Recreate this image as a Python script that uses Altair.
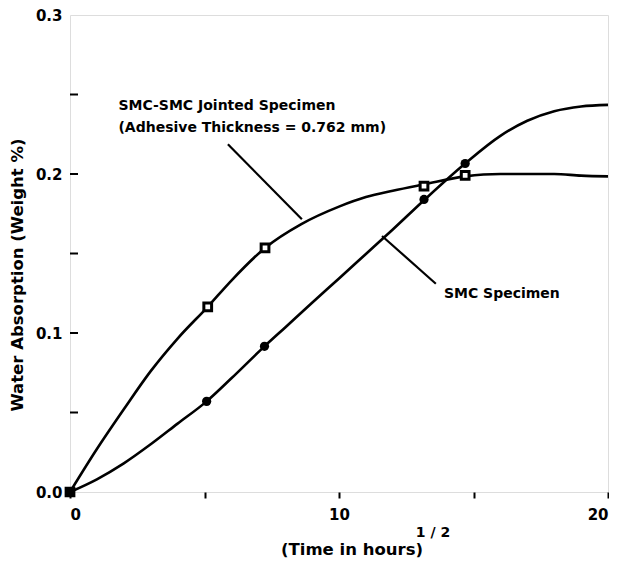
import altair as alt
import pandas as pd

# Curve points
joint_x = [0, 1, 2, 3, 4, 5.12, 6, 7.25, 8.6, 10, 11, 12, 13.16, 14.69, 16, 17, 18, 19, 20]
joint_y = [0, 0.027, 0.052, 0.076, 0.0965, 0.1165, 0.133, 0.1535, 0.1685, 0.1795, 0.1855, 0.1895, 0.1935, 0.1985, 0.2, 0.2, 0.2, 0.199, 0.1985]
smc_x = [0, 1, 2, 3, 4, 5.08, 6, 7.23, 8, 9, 10, 11, 12, 13.16, 14.69, 16, 17, 18, 19, 20]
smc_y = [0, 0.008, 0.018, 0.03, 0.043, 0.057, 0.0715, 0.0916, 0.1035, 0.119, 0.1343, 0.1497, 0.1651, 0.1835, 0.2066, 0.224, 0.2335, 0.2395, 0.2425, 0.2435]

# Measured data points
joint_pts_x = [0, 5.12, 7.25, 13.16, 14.69]
joint_pts_y = [0, 0.1165, 0.1535, 0.1923, 0.1991]
smc_pts_x = [0, 5.08, 7.23, 13.16, 14.69]
smc_pts_y = [0, 0.057, 0.0916, 0.184, 0.2066]

y_minor = [0.05, 0.1, 0.15, 0.2, 0.25]

FONT = "DejaVu Sans"

xs = alt.Scale(domain=[0, 20], nice=False, zero=False)
ys = alt.Scale(domain=[0, 0.3], nice=False, zero=False)

curves = pd.DataFrame({"x": joint_x + smc_x, "y": joint_y + smc_y,
                       "s": ["joint"] * len(joint_x) + ["smc"] * len(smc_x)})
sq = pd.DataFrame({"x": joint_pts_x, "y": joint_pts_y})
ci = pd.DataFrame({"x": smc_pts_x, "y": smc_pts_y})

base_x = alt.X("x:Q", scale=xs, axis=alt.Axis(
    title=None, values=[0, 5, 10, 15, 20], grid=False, domain=False,
    tickSize=6, tickWidth=2, tickColor="black",
    labelExpr="datum.value % 10 == 0 ? datum.label : ''",
    labelFont=FONT, labelFontSize=15, labelFontWeight="bold", labelColor="black",
    labelPadding=9))
base_y = alt.Y("y:Q", scale=ys, axis=alt.Axis(
    title=None, values=[0, 0.1, 0.2, 0.3], format=".1f", grid=False, domain=False,
    ticks=False, labelFont=FONT, labelFontSize=15, labelFontWeight="bold",
    labelColor="black", labelPadding=8))

lines = alt.Chart(curves).mark_line(color="black", strokeWidth=2.6, interpolate="monotone").encode(
    x=base_x, y=base_y, detail="s:N")

squares = alt.Chart(sq).mark_point(shape="square", size=60, filled=False, color="black",
                                   strokeWidth=3, fill="white", opacity=1).encode(
    x=alt.X("x:Q", scale=xs), y=alt.Y("y:Q", scale=ys))
circles = alt.Chart(ci).mark_point(shape="circle", size=85, filled=True, color="black",
                                   opacity=1).encode(
    x=alt.X("x:Q", scale=xs), y=alt.Y("y:Q", scale=ys))

yt = alt.Chart(pd.DataFrame({"y": y_minor})).mark_rule(color="black", strokeWidth=2).encode(
    y=alt.Y("y:Q", scale=ys), x=alt.value(0), x2=alt.value(8))

# leader lines
leaders = pd.DataFrame({
    "x": [5.87, 11.6], "y": [0.2187, 0.161],
    "x2": [8.62, 13.6], "y2": [0.1715, 0.131]})
lead = alt.Chart(leaders).mark_rule(color="black", strokeWidth=2.2).encode(
    x=alt.X("x:Q", scale=xs), y=alt.Y("y:Q", scale=ys), x2="x2:Q", y2="y2:Q")

ann = pd.DataFrame({
    "x": [1.8, 1.8, 13.9],
    "y": [0.2428, 0.2291, 0.1245],
    "t": ["SMC-SMC Jointed Specimen", "(Adhesive Thickness = 0.762 mm)", "SMC Specimen"]})
anns = alt.Chart(ann).mark_text(align="left", baseline="middle", font=FONT, fontSize=14,
                                fontWeight="bold", color="black").encode(
    x=alt.X("x:Q", scale=xs), y=alt.Y("y:Q", scale=ys), text="t:N")

xtitle = alt.Chart(pd.DataFrame({"t": ["(Time in hours)"]})).mark_text(
    font=FONT, fontSize=16.5, fontWeight="bold", color="black", align="center", baseline="middle").encode(
    text="t:N", x=alt.value(282), y=alt.value(535))
xsup = alt.Chart(pd.DataFrame({"t": ["1 / 2"]})).mark_text(
    font=FONT, fontSize=14, fontWeight="bold", color="black", align="center", baseline="middle").encode(
    text="t:N", x=alt.value(363), y=alt.value(518))
ytitle = alt.Chart(pd.DataFrame({"t": ["Water Absorption (Weight %)"]})).mark_text(
    font=FONT, fontSize=16.5, fontWeight="bold", color="black", angle=270, align="center",
    baseline="middle").encode(text="t:N", x=alt.value(-52), y=alt.value(260))

chart = alt.layer(lines, yt, lead, squares, circles, anns, xtitle, xsup, ytitle).properties(
    width=538, height=477,
    autosize=alt.AutoSizeParams(type="none"),
    padding={"left": 62, "top": 7, "right": 1, "bottom": 72},
).configure_view(stroke="black", strokeWidth=2.6).configure(background="white")

chart.save("out.html", embed_options={"renderer": "svg", "actions": False})
